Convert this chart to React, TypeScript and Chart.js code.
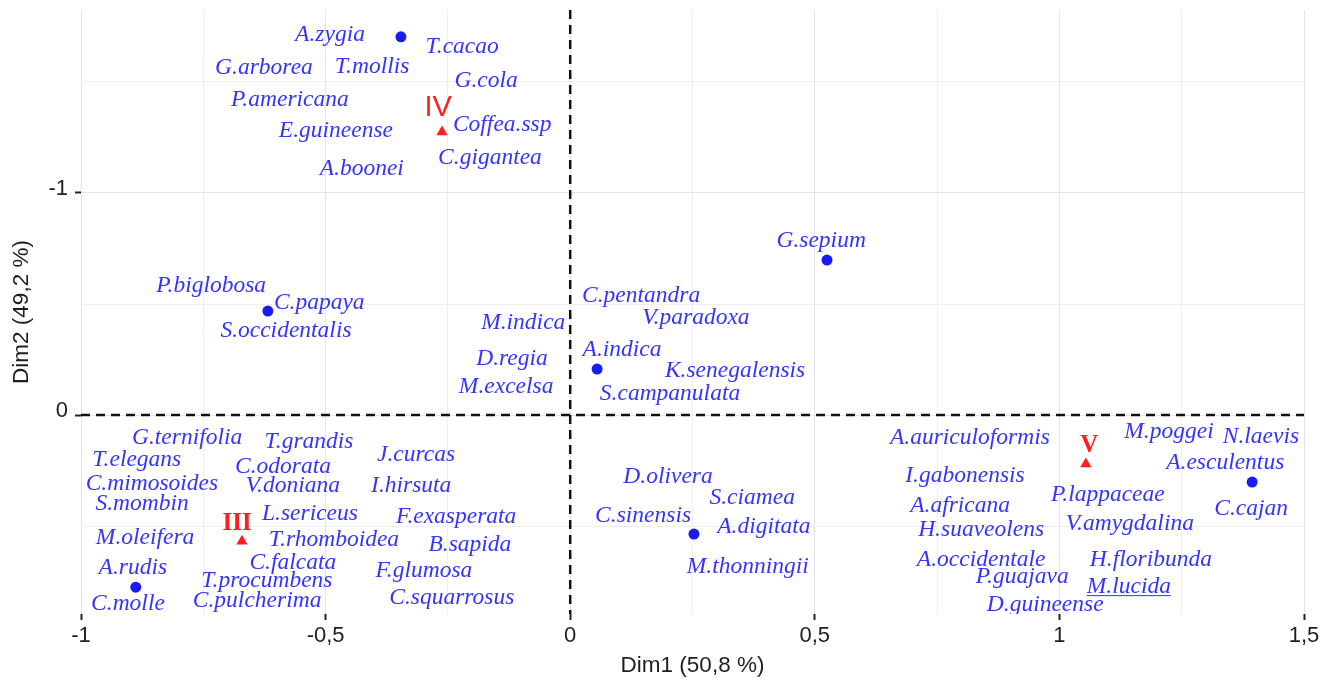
import React, { useEffect, useRef } from 'react';
import { Chart, registerables } from 'chart.js';

Chart.register(...registerables);

// Axis ticks
const xTicks = [-1, -0.75, -0.5, -0.25, 0, 0.25, 0.5, 0.75, 1, 1.25, 1.5];
const xTickLabels = ['-1', '', '-0,5', '', '0', '', '0,5', '', '1', '', '1,5'];
const yTicks = [-1.5, -1, -0.5, 0, 0.5];
const yTickLabels = ['', '-1', '', '0', ''];
const xTitle = 'Dim1 (50,8 %)';
const yTitle = 'Dim2 (49,2 %)';

// Individual (blue) points
const dotX = [-0.346, -0.618, 0.055, 0.525, -0.888, 0.253, 1.394];
const dotY = [-1.703, -0.468, -0.207, -0.698, 0.775, 0.536, 0.302];

// Cluster centres (red triangles) and their labels
const clusterNames = ['IV', 'III', 'V'];
const clusterX = [-0.262, -0.671, 1.054];
const clusterY = [-1.275, 0.568, 0.221];
const clusterLabelX = [-0.270, -0.681, 1.061];
const clusterLabelY = [-1.347, 0.518, 0.167];

// Species labels (text centre x, baseline y)
const speciesNames = [
  'A.zygia', 'T.cacao', 'T.mollis', 'G.arborea', 'G.cola', 'P.americana', 'Coffea.ssp', 'E.guineense', 'C.gigantea', 'A.boonei',
  'P.biglobosa', 'C.papaya', 'S.occidentalis', 'M.indica', 'D.regia', 'M.excelsa',
  'G.sepium', 'C.pentandra', 'V.paradoxa', 'A.indica', 'K.senegalensis', 'S.campanulata',
  'G.ternifolia', 'T.grandis', 'J.curcas', 'T.elegans', 'C.odorata', 'C.mimosoides', 'V.doniana', 'I.hirsuta', 'S.mombin',
  'L.sericeus', 'F.exasperata', 'M.oleifera', 'T.rhomboidea', 'B.sapida', 'C.falcata', 'A.rudis', 'F.glumosa', 'T.procumbens',
  'C.squarrosus', 'C.molle', 'C.pulcherima',
  'D.olivera', 'S.ciamea', 'C.sinensis', 'A.digitata', 'M.thonningii',
  'A.auriculoformis', 'M.poggei', 'N.laevis', 'A.esculentus', 'I.gabonensis', 'P.lappaceae', 'A.africana', 'C.cajan',
  'V.amygdalina', 'H.suaveolens', 'A.occidentale', 'H.floribunda', 'P.guajava', 'M.lucida', 'D.guineense',
];
const speciesX = [
  -0.491, -0.221, -0.405, -0.626, -0.172, -0.573, -0.139, -0.479, -0.164, -0.426,
  -0.734, -0.513, -0.581, -0.096, -0.119, -0.131,
  0.513, 0.145, 0.257, 0.106, 0.337, 0.204,
  -0.783, -0.534, -0.315, -0.886, -0.587, -0.855, -0.567, -0.325, -0.875,
  -0.532, -0.233, -0.869, -0.483, -0.205, -0.567, -0.894, -0.299, -0.620,
  -0.242, -0.904, -0.640,
  0.200, 0.372, 0.149, 0.396, 0.363,
  0.817, 1.224, 1.412, 1.339, 0.807, 1.099, 0.797, 1.392,
  1.144, 0.840, 0.840, 1.187, 0.924, 1.142, 0.971,
];
const speciesY = [
  -1.685, -1.631, -1.541, -1.536, -1.477, -1.392, -1.279, -1.252, -1.131, -1.081,
  -0.554, -0.477, -0.351, -0.387, -0.225, -0.099,
  -0.757, -0.509, -0.410, -0.266, -0.171, -0.068,
  0.131, 0.149, 0.207, 0.230, 0.261, 0.338, 0.347, 0.347, 0.428,
  0.473, 0.486, 0.581, 0.590, 0.613, 0.694, 0.716, 0.730, 0.775,
  0.851, 0.878, 0.865,
  0.306, 0.401, 0.482, 0.532, 0.712,
  0.131, 0.104, 0.126, 0.243, 0.302, 0.387, 0.437, 0.450,
  0.518, 0.545, 0.680, 0.680, 0.757, 0.802, 0.883,
];
const underlinedNames = ['M.lucida'];

const X_MIN = -1;
const X_MAX = 1.5;
const Y_MIN = -1.824;
const Y_MAX = 0.896;

const LABEL_BLUE = '#3434ff';
const DOT_BLUE = '#1a1af2';
const RED = '#ff1f1f';
const SANS = '"Liberation Sans", Arial, Helvetica, sans-serif';
const SERIF = '"Liberation Serif", "Times New Roman", serif';

const overlayPlugin = {
  id: 'overlay',
  beforeDatasetsDraw(chart: any) {
    const { ctx, chartArea, scales } = chart;
    const x0 = scales.x.getPixelForValue(0);
    const y0 = scales.y.getPixelForValue(0);
    ctx.save();
    ctx.strokeStyle = '#111';
    ctx.lineWidth = 2.5;
    ctx.setLineDash([9, 6]);
    ctx.beginPath();
    ctx.moveTo(chartArea.left, y0);
    ctx.lineTo(chartArea.right, y0);
    ctx.stroke();
    ctx.beginPath();
    ctx.moveTo(x0, chartArea.top);
    ctx.lineTo(x0, chartArea.bottom);
    ctx.stroke();
    ctx.restore();
  },
  afterDatasetsDraw(chart: any) {
    const { ctx, chartArea, scales } = chart;
    ctx.save();
    ctx.beginPath();
    ctx.rect(chartArea.left, chartArea.top, chartArea.right - chartArea.left, chartArea.bottom - chartArea.top);
    ctx.clip();
    ctx.textAlign = 'center';
    ctx.textBaseline = 'alphabetic';
    ctx.font = `italic 23.5px ${SERIF}`;
    ctx.fillStyle = LABEL_BLUE;
    speciesNames.forEach((name, i) => {
      const px = scales.x.getPixelForValue(speciesX[i]);
      const py = scales.y.getPixelForValue(speciesY[i]);
      ctx.fillText(name, px, py);
      if (underlinedNames.includes(name)) {
        const w = ctx.measureText(name).width;
        ctx.fillRect(px - w / 2, py + 2, w, 1);
      }
    });
    ctx.fillStyle = RED;
    clusterNames.forEach((name, i) => {
      ctx.font = name === 'IV' ? `29px ${SANS}` : `bold 25px ${SERIF}`;
      const px = scales.x.getPixelForValue(clusterLabelX[i]);
      const py = scales.y.getPixelForValue(clusterLabelY[i]);
      ctx.fillText(name, px, py);
    });
    ctx.restore();
  },
};

export default function App() {
  const canvasRef = useRef<HTMLCanvasElement | null>(null);

  useEffect(() => {
    const canvas = canvasRef.current;
    if (!canvas) return;
    const chart = new Chart(canvas, {
      type: 'scatter',
      data: {
        datasets: [
          {
            label: 'individus',
            data: dotX.map((v, i) => ({ x: v, y: dotY[i] })),
            pointStyle: 'circle',
            pointRadius: 5.5,
            backgroundColor: DOT_BLUE,
            borderColor: DOT_BLUE,
            borderWidth: 0,
          },
          {
            label: 'clusters',
            data: clusterX.map((v, i) => ({ x: v, y: clusterY[i] })),
            pointStyle: 'triangle',
            pointRadius: 6.5,
            backgroundColor: RED,
            borderColor: RED,
            borderWidth: 0,
          },
        ],
      },
      options: {
        animation: false,
        responsive: false,
        devicePixelRatio: 1,
        layout: { padding: { top: 10, right: 27, left: 0, bottom: 0 } },
        plugins: {
          legend: { display: false },
          tooltip: { enabled: false },
        },
        scales: {
          x: {
            type: 'linear',
            min: X_MIN,
            max: X_MAX,
            afterBuildTicks: (scale: any) => {
              scale.ticks = xTicks.map((v) => ({ value: v }));
            },
            afterFit: (scale: any) => {
              scale.height = 70;
              scale.paddingLeft = 0;
              scale.paddingRight = 0;
            },
            border: { display: false },
            grid: {
              color: (c: any) => (xTickLabels[c.index] ? '#e4e4e4' : '#efefef'),
              lineWidth: 1,
              drawTicks: true,
              tickLength: 6,
              tickWidth: 2,
              tickColor: (c: any) => (xTickLabels[c.index] ? '#222' : 'rgba(0,0,0,0)'),
            },
            ticks: {
              autoSkip: false,
              maxRotation: 0,
              padding: 3,
              color: '#1e1e1e',
              font: { family: SANS, size: 22 },
              callback: (_v: any, i: number) => xTickLabels[i],
            },
            title: {
              display: true,
              text: xTitle,
              color: '#1e1e1e',
              font: { family: SANS, size: 22.5 },
              padding: { top: 0, bottom: 5 },
            },
          },
          y: {
            type: 'linear',
            reverse: true,
            min: Y_MIN,
            max: Y_MAX,
            afterBuildTicks: (scale: any) => {
              scale.ticks = yTicks.map((v) => ({ value: v }));
            },
            afterFit: (scale: any) => {
              scale.width = 81;
              scale.paddingTop = 0;
              scale.paddingBottom = 0;
            },
            border: { display: false },
            grid: {
              color: (c: any) => (yTickLabels[c.index] ? '#e4e4e4' : '#efefef'),
              lineWidth: 1,
              drawTicks: true,
              tickLength: 6,
              tickWidth: 2,
              tickColor: (c: any) => (yTickLabels[c.index] ? '#222' : 'rgba(0,0,0,0)'),
            },
            ticks: {
              autoSkip: false,
              padding: 7,
              labelOffset: -4,
              color: '#1e1e1e',
              font: { family: SANS, size: 22 },
              callback: (_v: any, i: number) => yTickLabels[i],
            },
            title: {
              display: true,
              text: yTitle,
              color: '#1e1e1e',
              font: { family: SANS, size: 22.5 },
              padding: { top: 8, bottom: 0 },
            },
          },
        },
      },
      plugins: [overlayPlugin],
    } as any);
    return () => chart.destroy();
  }, []);

  return (
    <div style={{ position: 'fixed', left: 0, top: 0, width: 1331, height: 684, background: '#fff' }}>
      <canvas ref={canvasRef} width={1331} height={684} style={{ width: 1331, height: 684, display: 'block' }} />
    </div>
  );
}
